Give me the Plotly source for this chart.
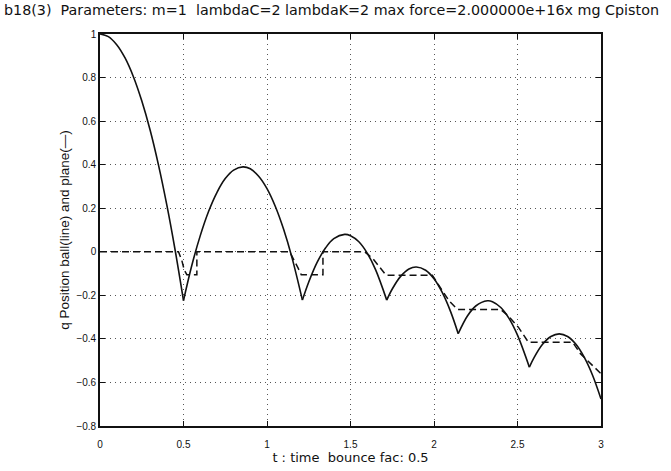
import plotly.graph_objects as go

# Ball position q(t): one list per flight arc, joined with None so each arc
# is smoothed on its own and the bounce corners stay sharp.
ball_t = [0.00, 0.05, 0.10, 0.15, 0.20, 0.25, 0.30, 0.35, 0.40, 0.45, 0.50, None,
          0.50, 0.55, 0.60, 0.65, 0.70, 0.75, 0.80, 0.856, 0.90, 0.95, 1.00, 1.05, 1.10, 1.15, 1.212, None,
          1.212, 1.25, 1.30, 1.35, 1.40, 1.465, 1.50, 1.55, 1.60, 1.65, 1.717, None,
          1.717, 1.75, 1.80, 1.85, 1.894, 1.95, 2.00, 2.05, 2.10, 2.145, None,
          2.145, 2.20, 2.25, 2.32, 2.35, 2.40, 2.45, 2.50, 2.571, None,
          2.571, 2.60, 2.65, 2.70, 2.75, 2.80, 2.85, 2.90, 2.95, 3.00]
ball_q = [1.000, 0.988, 0.951, 0.890, 0.804, 0.693, 0.559, 0.399, 0.215, 0.007, -0.224, None,
          -0.224, -0.062, 0.073, 0.185, 0.272, 0.336, 0.375, 0.390, 0.381, 0.347, 0.290, 0.208, 0.102, -0.028, -0.222, None,
          -0.222, -0.139, -0.049, 0.017, 0.060, 0.080, 0.074, 0.046, -0.006, -0.082, -0.222, None,
          -0.222, -0.171, -0.113, -0.079, -0.070, -0.085, -0.124, -0.188, -0.276, -0.376, None,
          -0.376, -0.295, -0.249, -0.225, -0.229, -0.256, -0.307, -0.383, -0.530, None,
          -0.530, -0.485, -0.425, -0.389, -0.377, -0.389, -0.425, -0.485, -0.568, -0.676]

# Plane position (dashed)
plane_t = [0.00, 0.47, 0.49, 0.505, 0.52, 0.58, 0.58, 1.136, 1.185, 1.205, 1.335, 1.335,
           1.584, 1.633, 1.713, 1.99, 2.04, 2.09, 2.14, 2.40, 2.446, 2.506, 2.565,
           2.83, 2.877, 2.936, 3.00]
plane_q = [0.000, 0.000, -0.040, -0.085, -0.105, -0.105, 0.000, 0.000, -0.073, -0.105, -0.105, 0.000,
           0.000, -0.030, -0.108, -0.108, -0.167, -0.225, -0.265, -0.265, -0.295, -0.347, -0.415,
           -0.415, -0.468, -0.514, -0.560]

x_ticks = [0, 0.5, 1, 1.5, 2, 2.5, 3]
x_tick_text = ["0", "0.5", "1", "1.5", "2", "2.5", "3"]
y_ticks = [-0.8, -0.6, -0.4, -0.2, 0, 0.2, 0.4, 0.6, 0.8, 1]
y_tick_text = ["\u22120.8", "\u22120.6", "\u22120.4", "\u22120.2", "0", "0.2", "0.4", "0.6", "0.8", "1"]

title_text = ("b18(3)  Parameters: m=1  lambdaC=2 lambdaK=2 "
              "max force=2.000000e+16x mg Cpiston")

FONT = "Liberation Sans, Arial, Helvetica, sans-serif"
WIDE = "DejaVu Sans, Verdana, sans-serif"

fig = go.Figure()
fig.add_trace(go.Scatter(x=plane_t, y=plane_q, mode="lines",
                         line=dict(color="#111", width=1.5, dash="7px,4px"),
                         hoverinfo="skip", showlegend=False))
fig.add_trace(go.Scatter(x=ball_t, y=ball_q, mode="lines", connectgaps=False,
                         line=dict(color="#111", width=1.6, shape="spline", smoothing=1.0),
                         hoverinfo="skip", showlegend=False))

axis_common = dict(
    showline=True, linecolor="#111", linewidth=1.6, mirror="ticks",
    ticks="inside", ticklen=5, tickwidth=1, tickcolor="#111",
    showgrid=True, gridcolor="#555", gridwidth=1, griddash="1px,4px",
    zeroline=False, tickfont=dict(family=FONT, size=10, color="#111"),
)

fig.update_xaxes(range=[0, 3], tickvals=x_ticks, ticktext=x_tick_text,
                 ticklabelstandoff=8,
                 title=dict(text="t : time  bounce fac: 0.5",
                            font=dict(family=WIDE, size=13, color="#111"), standoff=0),
                 **axis_common)
fig.update_yaxes(range=[-0.8, 1], tickvals=y_ticks, ticktext=y_tick_text,
                 title=dict(text="q Position ball(line) and plane(\u2014)",
                            font=dict(family=FONT, size=13.5, color="#111"), standoff=4),
                 **axis_common)

fig.update_layout(
    width=671, height=471,
    margin=dict(l=100, r=70, t=34, b=35),
    paper_bgcolor="white", plot_bgcolor="white",
    title=dict(text=title_text, x=0.006, xanchor="left", y=0.978, yanchor="middle",
               font=dict(family=WIDE, size=14.3, color="#111")),
)

fig.write_html("out.html")
